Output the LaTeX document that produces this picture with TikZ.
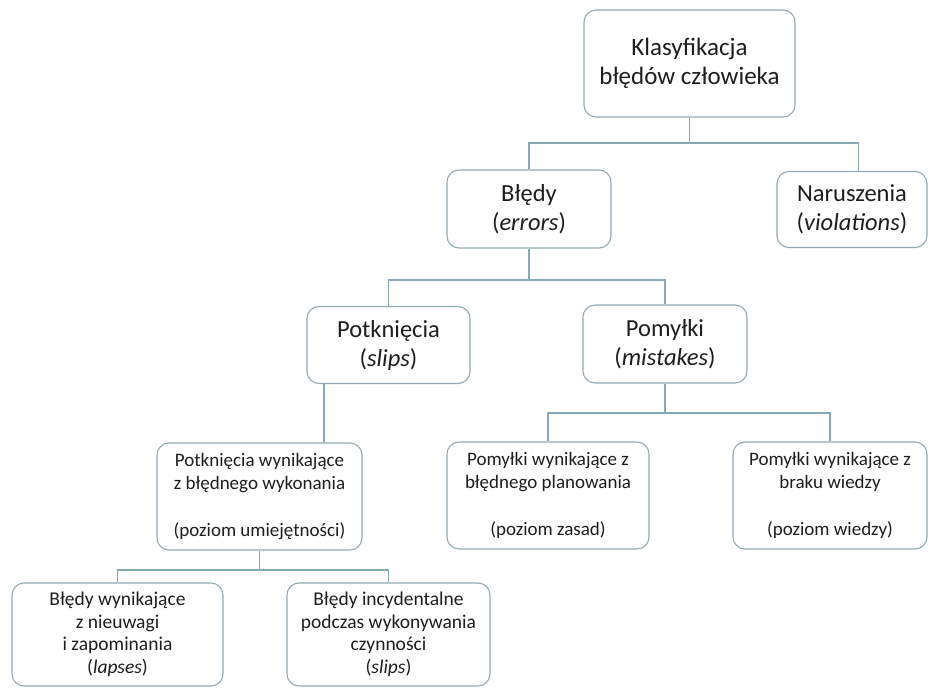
\documentclass[tikz,border=0pt]{standalone}
\usepackage{fontspec}
\setmainfont{Carlito}
\usetikzlibrary{calc}
\definecolor{boxline}{HTML}{93AAB3}
\definecolor{connline}{HTML}{86A9BA}
\definecolor{txt}{HTML}{1E1E1E}
\newcommand\fontTop{\fontsize{25}{29}\selectfont}
\newcommand\fontMid{\fontsize{24.5}{29}\selectfont}
\newcommand\fontLow{\fontsize{19}{23.5}\selectfont}
\newcommand\fontLeaf{\fontsize{19.5}{22.5}\selectfont}
\begin{document}
\begin{tikzpicture}[x=1pt,y=-1pt,
  box/.style={draw=boxline, line width=1.1pt, rounded corners=12pt, fill=white,
    align=center, inner sep=0pt, text=txt},
  conn/.style={draw=connline, line width=1.2pt}]
\useasboundingbox (0,0) rectangle (930,688);

% level 0
\node[box, font=\fontTop, minimum width=211pt, minimum height=107pt] (top) at (689.5,63.5)
  {Klasyfikacja\\błędów człowieka};
% level 1
\node[box, font=\fontMid, minimum width=164pt, minimum height=78pt] (bledy) at (529,209)
  {Błędy\\(\textit{errors})};
\node[box, font=\fontMid, minimum width=150pt, minimum height=76pt] (narusz) at (852,209.5)
  {Naruszenia\\(\textit{violations})};
% level 2
\node[box, font=\fontMid, minimum width=163pt, minimum height=77pt] (potk) at (388.5,345)
  {Potknięcia\\(\textit{slips})};
\node[box, font=\fontMid, minimum width=164pt, minimum height=78pt] (pomylki) at (665,344)
  {Pomyłki\\(\textit{mistakes})};
% level 3
\node[box, font=\fontLow, minimum width=205pt, minimum height=107pt] (pwyk) at (259.5,496.5)
  {Potknięcia wynikające\\z błędnego wykonania\\[23.5pt](poziom umiejętności)};
\node[box, font=\fontLow, minimum width=202pt, minimum height=107pt] (pplan) at (548,495.5)
  {Pomyłki wynikające z\\błędnego planowania\\[23.5pt](poziom zasad)};
\node[box, font=\fontLow, minimum width=194pt, minimum height=107pt] (pwiedza) at (830,495.5)
  {Pomyłki wynikające z\\braku wiedzy\\[23.5pt](poziom wiedzy)};
% level 4
\node[box, font=\fontLeaf, minimum width=211pt, minimum height=103pt] (lapses) at (117.5,634.5)
  {Błędy wynikające\\z nieuwagi\\i zapominania\\(\textit{lapses})};
\node[box, font=\fontLeaf, minimum width=203pt, minimum height=103pt] (slips) at (388.5,634.5)
  {Błędy incydentalne\\podczas wykonywania\\czynności\\(\textit{slips})};

% bus levels
\coordinate (busA) at (0,143);
\coordinate (busB) at (0,280);
\coordinate (busC) at (0,413);
\coordinate (busD) at (0,570);
\coordinate (nTop) at ($(narusz.north)+(6.5,0)$);
\coordinate (pMid) at ($(potk.south)!0.5!(pwyk.north)$);

% connectors
\draw[conn] (top.south) -- (top.south |- busA);
\draw[conn] (bledy.north) |- (busA -| nTop) -- (nTop);
\draw[conn] (bledy.south) -- (bledy.south |- busB);
\draw[conn] (potk.north) |- (busB -| pomylki.north) -- (pomylki.north);
\draw[conn] (pMid |- potk.south) -- (pMid |- pwyk.north);
\draw[conn] (pomylki.south) -- (pomylki.south |- busC);
\draw[conn] (pplan.north) |- (busC -| pwiedza.north) -- (pwiedza.north);
\draw[conn] (pwyk.south) -- (pwyk.south |- busD);
\draw[conn] (lapses.north) |- (busD -| slips.north) -- (slips.north);
\end{tikzpicture}
\end{document}
